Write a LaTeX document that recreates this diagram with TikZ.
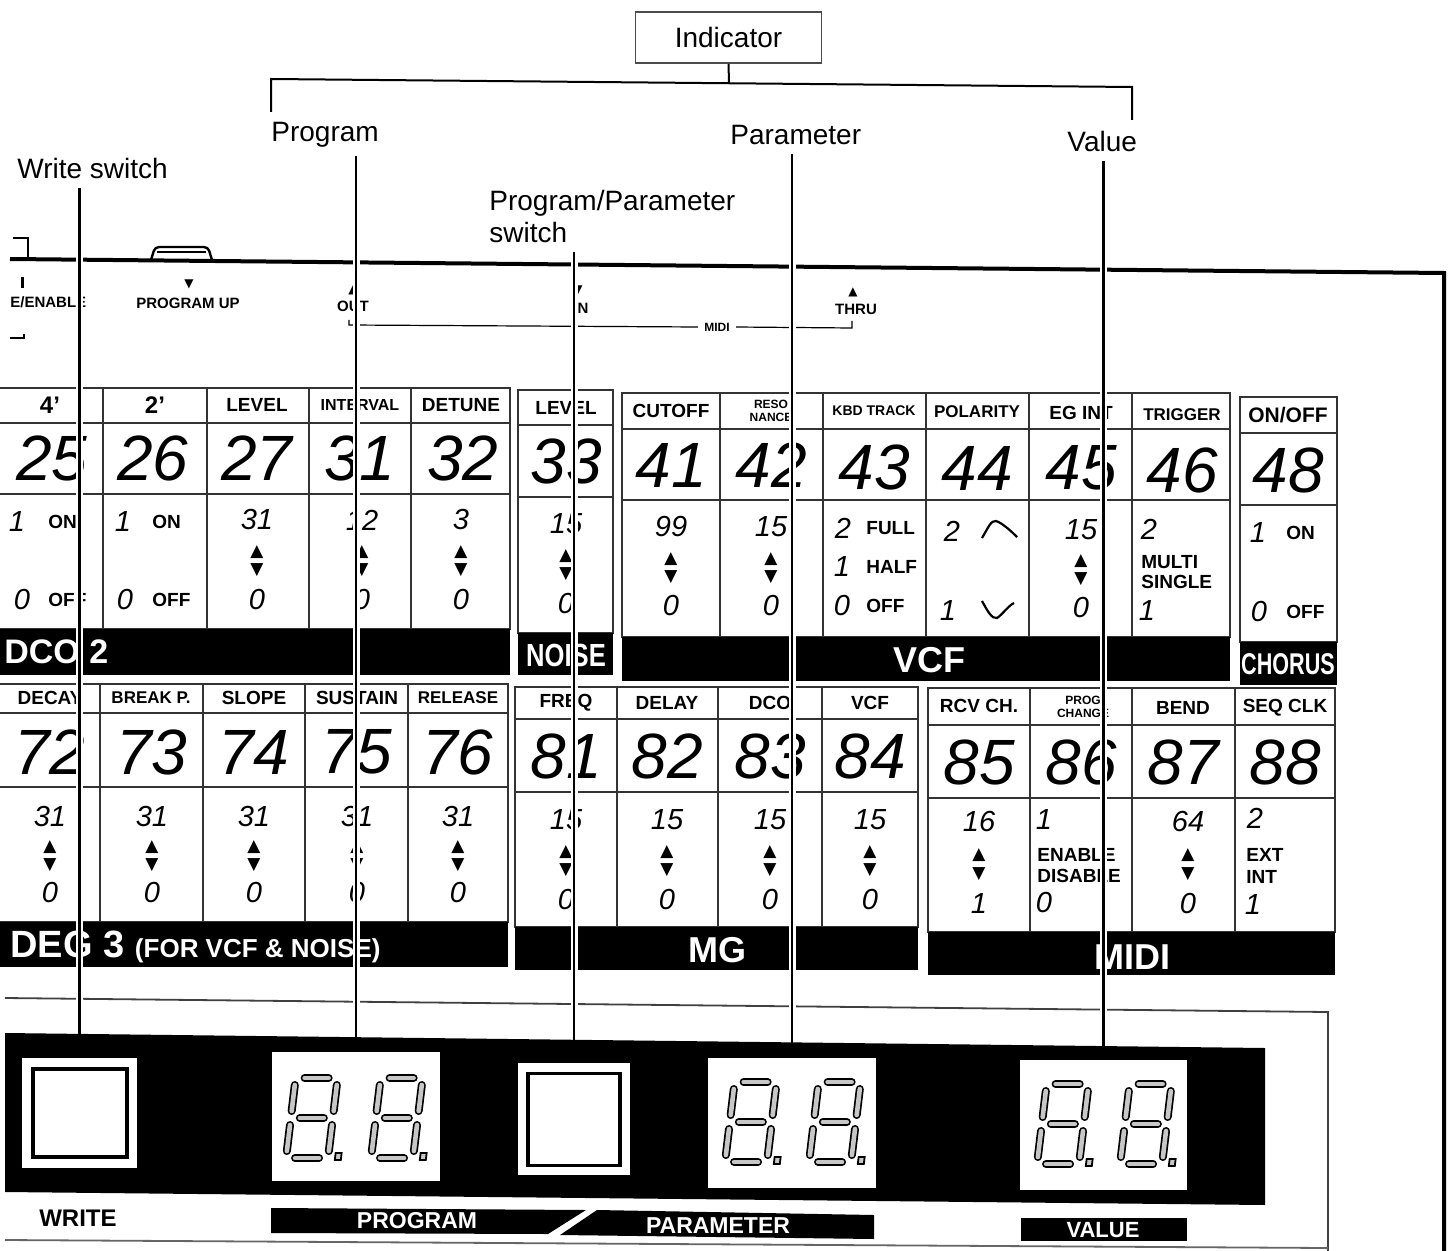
\documentclass[tikz,border=0pt]{standalone}
\usepackage{fontspec}
\setmainfont{Liberation Sans}
\newfontfamily\symf{DejaVu Sans}
\usepackage{graphicx}
\usetikzlibrary{calc}

\tikzset{
 lbl/.style={inner sep=0pt, font=\fontsize{14}{16}\selectfont},
 hdr/.style={inner sep=0pt, font=\bfseries\fontsize{9.5}{10}\selectfont},
 bignum/.style={inner sep=0pt, font=\itshape\fontsize{32}{32}\selectfont},
 val/.style={inner sep=0pt, font=\itshape\fontsize{14.5}{15}\selectfont},
 wrd/.style={inner sep=0pt, font=\bfseries\fontsize{9.5}{10}\selectfont},
 tri/.style={inner sep=0pt, font=\symf\fontsize{8.5}{8.5}\selectfont},
 bartxt/.style={inner sep=0pt, text=white, font=\bfseries\fontsize{18}{18}\selectfont},
 tline/.style={line width=0.9pt, draw=black!80},
 small/.style={inner sep=0pt, font=\bfseries\fontsize{7.5}{8}\selectfont},
 leader/.style={line width=1.2pt, shorten <=4pt},
 casing/.style={line width=3.5pt, white, shorten <=4pt},
 segout/.style={line width=4pt, line cap=round, black},
 segin/.style={line width=2.3pt, line cap=round, black!22},
 barlbl/.style={inner sep=0pt, text=white, font=\bfseries\fontsize{11.5}{12}\selectfont},
}

\newcommand\tgrp[7]{%
 \draw[tline] (#1,#3) rectangle (#2,#6);
 \draw[tline] (#1,#4) -- (#2,#4) (#1,#5) -- (#2,#5);
 \fill[black] (#1,#6) rectangle (#2,#7);}

\newcommand\rngc[6]{%
 \node[val] (#1h) at (#2,#3) {#5};
 \node[tri] (#1u) at (#2,{#3+0.4*(#4-#3)}) {▲};
 \node[tri] (#1d) at (#2,{#3+0.63*(#4-#3)}) {▼};
 \node[val] (#1l) at (#2,#4) {#6};}

\newcommand\segdig[2]{%
 \begin{scope}[shift={(#1,#2)}, xslant=0.12]
  \foreach \xa/\ya/\xb/\yb in {11/3/35/3, 11/43/35/43, 11/83/35/83, 2/10/2/36, 44/10/44/36, 2/50/2/76, 44/50/44/76}{
    \draw[segout] (\xa,\ya) -- (\xb,\yb);
    \draw[segin] (\xa,\ya) -- (\xb,\yb);}
  \draw[line width=0.9pt, fill=black!22] (51,78) rectangle (57,85);
 \end{scope}}

\begin{document}
\begin{tikzpicture}[x=0.5pt,y=-0.5pt]
\useasboundingbox (0,0) rectangle (1449,1251);
\fill[white] (0,0) rectangle (1449,1251);

% ---------- callout labels ----------
\node[draw=black!70, line width=0.8pt, minimum width=93pt, minimum height=25.5pt, inner sep=0pt, font=\fontsize{14}{16}\selectfont] (ind) at (728.5,37.5) {Indicator};
\coordinate (bl) at (271,112); \coordinate (blt) at (271,79);
\coordinate (brt) at (1132,87); \coordinate (br) at (1132,120);
\coordinate (bmid) at (729,83);
\draw[line width=1pt] (bl) -- (blt) -- (brt) -- (br);
\draw[line width=1pt] (ind.south) -- (bmid);

\node[lbl, anchor=base west] (prg) at (271,142) {Program};
\node[lbl, anchor=base west] (par) at (730,145) {Parameter};
\node[lbl, anchor=base west] (vlu) at (1067,152) {Value};
\node[lbl, anchor=base west] (wsw) at (17,179) {Write switch};
\node[lbl, anchor=base west] (psw) at (489,211) {Program/Parameter};
\node[lbl, anchor=base west] (psw2) at (489,243) {switch};

% ---------- panel top ----------
\draw[line width=2pt] (10,259) -- (1444,273) -- (1444,1251);
\draw[line width=1.2pt] (13,238) -- (28,238) -- (28,258);
\draw[line width=1.2pt, rounded corners=2pt] (151,260) -- (155,247) -- (208,247) -- (212,260);
\draw[line width=0.8pt] (157,252) -- (206,252);

\fill (20.5,277) rectangle (23.5,288);
\node[small, anchor=west] (wen) at (10,302) {E/ENABLE};
\node[tri, font=\symf\fontsize{6}{6}\selectfont] (pu1) at (189,284) {▼};
\node[small] (pu) at (188,303) {PROGRAM UP};
\node[tri, font=\symf\fontsize{6}{6}\selectfont] (ot1) at (353,290) {▲};
\node[small] (ot) at (353,306) {OUT};
\node[tri, font=\symf\fontsize{6}{6}\selectfont] (in1) at (578,290) {▼};
\node[small] (inl) at (581,308) {IN};
\node[tri, font=\symf\fontsize{6}{6}\selectfont] (th1) at (853,292) {▲};
\node[small] (th) at (856,309) {THRU};
\node[small, inner sep=3pt, font=\bfseries\fontsize{6}{6}\selectfont] (mid) at (717,327) {MIDI};
\draw[line width=0.6pt] (349,320) -- (349,325) -- (mid.west);
\draw[line width=0.6pt] (mid.east) -- (852,328) -- (852,321);
\draw[line width=0.8pt] (10,338) -- (24,338) -- (24,334);

% ---------- DCO 2 ----------
\tgrp{-5}{510}{388}{423}{494}{629}{675}
\foreach \x in {103,207,309,411} \draw[tline] (\x,388) -- (\x,629);
\node[hdr, font=\bfseries\fontsize{12}{12}\selectfont] (h4) at (50,405) {4'};
\node[hdr, font=\bfseries\fontsize{12}{12}\selectfont] (h2) at (155,405) {2'};
\node[hdr] (hlev) at (257,405) {LEVEL};
\node[hdr, font=\bfseries\fontsize{8}{8}\selectfont] (hint) at (360,405) {INTERVAL};
\node[hdr] (hdet) at (461,405) {DETUNE};
\node[bignum] (n25) at (52,458) {25};
\node[bignum] (n26) at (153,458) {26};
\node[bignum] (n27) at (257,458) {27};
\node[bignum] (n31) at (360,458) {31};
\node[bignum] (n32) at (463,458) {32};
\node[val] (v4a) at (17,522) {1};
\node[wrd, anchor=west] (v4b) at (48,522) {ON};
\node[val] (v4c) at (22,600) {0};
\node[wrd, anchor=west] (v4d) at (48,600) {OFF};
\node[val] (v2a) at (123,522) {1};
\node[wrd, anchor=west] (v2b) at (152,522) {ON};
\node[val] (v2c) at (125,600) {0};
\node[wrd, anchor=west] (v2d) at (152,600) {OFF};
\rngc{lv}{257}{520}{600}{31}{0}
\rngc{iv}{362}{520}{600}{12}{0}
\rngc{dt}{461}{520}{600}{3}{0}
\node[bartxt, anchor=west, font=\bfseries\fontsize{17}{17}\selectfont] (bdco) at (4,652) {DCO 2};

% ---------- NOISE ----------
\tgrp{518}{613}{390}{425}{497}{633}{675}
\node[hdr] (hnl) at (566,408) {LEVEL};
\node[bignum] (n33) at (566,461) {33};
\rngc{nl}{566}{524}{604}{15}{0}
\node[bartxt, font=\bfseries\fontsize{16}{16}\selectfont] (bnoise) at (566,655) {\scalebox{0.8}[1]{NOISE}};

% ---------- VCF ----------
\tgrp{622}{1230}{393}{429}{500}{637}{681}
\foreach \x in {720,823,926,1029,1132} \draw[tline] (\x,393) -- (\x,637);
\node[hdr] (hco) at (671,411) {CUTOFF};
\node[hdr, align=center, font=\bfseries\fontsize{6}{6.5}\selectfont] (hrs) at (771,411) {RESO\\NANCE};
\node[hdr, font=\bfseries\fontsize{7}{7}\selectfont] (hkb) at (874,411) {KBD TRACK};
\node[hdr, font=\bfseries\fontsize{8.5}{9}\selectfont] (hpo) at (977,412) {POLARITY};
\node[hdr] (heg) at (1081,413) {EG INT};
\node[hdr, font=\bfseries\fontsize{8.5}{9}\selectfont] (htr) at (1182,415) {TRIGGER};
\node[bignum] (n41) at (671,465) {41};
\node[bignum] (n42) at (771,465) {42};
\node[bignum] (n43) at (874,467) {43};
\node[bignum] (n44) at (977,468) {44};
\node[bignum] (n45) at (1081,468) {45};
\node[bignum] (n46) at (1182,470) {46};
\rngc{co}{671}{527}{606}{99}{0}
\rngc{rs}{771}{527}{606}{15}{0}
\node[val] (k2) at (843,528) {2};
\node[wrd, anchor=west] (k2w) at (866,528) {FULL};
\node[val] (k1) at (842,567) {1};
\node[wrd, anchor=west] (k1w) at (866,567) {HALF};
\node[val] (k0) at (842,606) {0};
\node[wrd, anchor=west] (k0w) at (866,606) {OFF};
\node[val] (p2) at (952,531) {2};
\draw[line width=1.1pt] (982,538) .. controls (988,528) and (991,520) .. (996,521) .. controls (1002,523) and (1010,530) .. (1017,537);
\node[val] (p1) at (948,611) {1};
\draw[line width=1.1pt] (982,601) .. controls (988,612) and (992,619) .. (997,618) .. controls (1003,614) and (1008,606) .. (1014,603);
\rngc{eg}{1081}{530}{608}{15}{0}
\node[val] (t2) at (1149,529) {2};
\node[wrd, anchor=west] (tmu) at (1141,562) {MULTI};
\node[wrd, anchor=west] (tsi) at (1141,582) {SINGLE};
\node[val] (t1) at (1147,611) {1};
\node[bartxt] (bvcf) at (929,660) {VCF};

% ---------- CHORUS ----------
\tgrp{1240}{1337}{397}{433}{505}{642}{685}
\node[hdr, font=\bfseries\fontsize{10.5}{11}\selectfont] (hon) at (1288,415) {ON/OFF};
\node[bignum] (n48) at (1288,470) {48};
\node[val] (c1) at (1258,533) {1};
\node[wrd, anchor=west] (c1w) at (1286,533) {ON};
\node[val] (c0) at (1259,612) {0};
\node[wrd, anchor=west] (c0w) at (1286,612) {OFF};
\node[bartxt, font=\bfseries\fontsize{15}{15}\selectfont] (bch) at (1288,664) {\scalebox{0.72}[1]{CHORUS}};

% ---------- DEG 3 ----------
\tgrp{-5}{508}{684}{713}{787}{922}{967}
\foreach \x in {100,203,305,408} \draw[tline] (\x,684) -- (\x,922);
\node[hdr] (hdc) at (50,698) {DECAY};
\node[hdr, font=\bfseries\fontsize{8.5}{9}\selectfont] (hbp) at (151,698) {BREAK P.};
\node[hdr] (hsl) at (254,698) {SLOPE};
\node[hdr] (hsu) at (357,698) {SUSTAIN};
\node[hdr, font=\bfseries\fontsize{8.5}{9}\selectfont] (hre) at (458,698) {RELEASE};
\node[bignum] (n72) at (50,752) {72};
\node[bignum] (n73) at (152,752) {73};
\node[bignum] (n74) at (254,752) {74};
\node[bignum] (n75) at (357,752) {75};
\node[bignum] (n76) at (458,752) {76};
\rngc{dc}{50}{817}{893}{31}{0}
\rngc{bp}{152}{817}{893}{31}{0}
\rngc{sl}{254}{817}{893}{31}{0}
\rngc{su}{357}{817}{893}{31}{0}
\rngc{re}{458}{817}{893}{31}{0}
\node[bartxt, anchor=base west, font=\bfseries\fontsize{19}{19}\selectfont] (bdeg) at (10,957) {DEG 3 {\fontsize{13}{13}\selectfont (FOR VCF \& NOISE)}};

% ---------- MG ----------
\tgrp{515}{918}{687}{719}{792}{927}{970}
\foreach \x in {617,718,822} \draw[tline] (\x,687) -- (\x,927);
\node[hdr] (hfq) at (566,703) {FREQ};
\node[hdr] (hdl) at (667,703) {DELAY};
\node[hdr] (hdo) at (770,703) {DCO};
\node[hdr] (hvf) at (870,703) {VCF};
\node[bignum] (n81) at (566,756) {81};
\node[bignum] (n82) at (667,756) {82};
\node[bignum] (n83) at (770,756) {83};
\node[bignum] (n84) at (870,756) {84};
\rngc{fq}{566}{820}{900}{15}{0}
\rngc{dl}{667}{820}{900}{15}{0}
\rngc{do}{770}{820}{900}{15}{0}
\rngc{vf}{870}{820}{900}{15}{0}
\node[bartxt] (bmg) at (717,950) {MG};

% ---------- MIDI ----------
\tgrp{928}{1335}{688}{725}{798}{932}{975}
\foreach \x in {1030,1132,1235} \draw[tline] (\x,688) -- (\x,932);
\node[hdr] (hrc) at (979,706) {RCV CH.};
\node[hdr, align=center, font=\bfseries\fontsize{6}{6.5}\selectfont] (hpc) at (1083,707) {PROG\\CHANGE};
\node[hdr] (hbe) at (1183,708) {BEND};
\node[hdr] (hsq) at (1285,708) {SEQ CLK};
\node[bignum] (n85) at (979,762) {85};
\node[bignum] (n86) at (1081,762) {86};
\node[bignum] (n87) at (1183,762) {87};
\node[bignum] (n88) at (1285,762) {88};
\rngc{rc}{979}{822}{904}{16}{1}
\node[val] (pc1) at (1044,820) {1};
\node[wrd, anchor=west] (pce) at (1037,855) {ENABLE};
\node[wrd, anchor=west] (pcd) at (1037,876) {DISABLE};
\node[val] (pc0) at (1044,903) {0};
\rngc{bd}{1188}{822}{904}{64}{0}
\node[val] (sq2) at (1255,818) {2};
\node[wrd, anchor=west] (sqe) at (1246,855) {EXT};
\node[wrd, anchor=west] (sqi) at (1246,877) {INT};
\node[val] (sq1) at (1253,905) {1};
\node[bartxt] (bmidi) at (1132,957) {MIDI};

% ---------- bottom panel ----------
\draw[line width=0.9pt, black!75] (5,998) -- (1328,1012) -- (1328,1251);
\draw[line width=0.9pt, black!60] (5,1240) -- (1328,1248);
\fill[black] (5,1033) -- (1265,1048) -- (1265,1205) -- (5,1192) -- cycle;
\coordinate (bandtop) at (0,1028);

\node[fill=white, minimum width=57.5pt, minimum height=55pt, inner sep=0pt] (wbtn) at (79.5,1113) {};
\node[draw=black, line width=1.6pt, minimum width=47pt, minimum height=44pt, inner sep=0pt] (wbtnin) at (80,1113) {};
\node[fill=white, minimum width=84pt, minimum height=64.5pt, inner sep=0pt] (pdisp) at (356,1116.5) {};
\node[fill=white, minimum width=56pt, minimum height=56pt, inner sep=0pt] (ppsw) at (574,1119) {};
\node[draw=black, line width=1.6pt, minimum width=46pt, minimum height=46pt, inner sep=0pt] (ppswin) at (574,1119.5) {};
\node[fill=white, minimum width=84pt, minimum height=65pt, inner sep=0pt] (pardisp) at (792,1123) {};
\node[fill=white, minimum width=83.5pt, minimum height=65pt, inner sep=0pt] (vdisp) at (1103.5,1125) {};

\segdig{294}{1075}\segdig{379}{1075}
\segdig{733}{1079}\segdig{817}{1079}
\segdig{1045}{1081}\segdig{1128}{1081}

\node[inner sep=0pt, font=\bfseries\fontsize{12}{12}\selectfont] (wr) at (78,1218) {WRITE};
\fill (271,1208) -- (586,1210) -- (548,1234) -- (271,1233) -- cycle;
\fill (597,1210) -- (874,1215) -- (874,1239) -- (560,1235) -- cycle;
\fill (1021,1218) rectangle (1187,1241);
\node[barlbl] (prl) at (417,1221) {PROGRAM};
\node[barlbl] (pal) at (718,1226) {PARAMETER};
\node[barlbl, font=\bfseries\fontsize{11}{11}\selectfont] (vlbl) at (1103,1230) {VALUE};

% ---------- leader lines ----------
\foreach \n/\l in {wbtn/wsw, pdisp/prg, ppsw/psw2, pardisp/par, vdisp/vlu}{
  \draw[casing] (\n.north |- \l.south) -- (\n.north |- bandtop);
  \draw[leader] (\n.north |- \l.south) -- (\n.north);
}
\end{tikzpicture}
\end{document}
